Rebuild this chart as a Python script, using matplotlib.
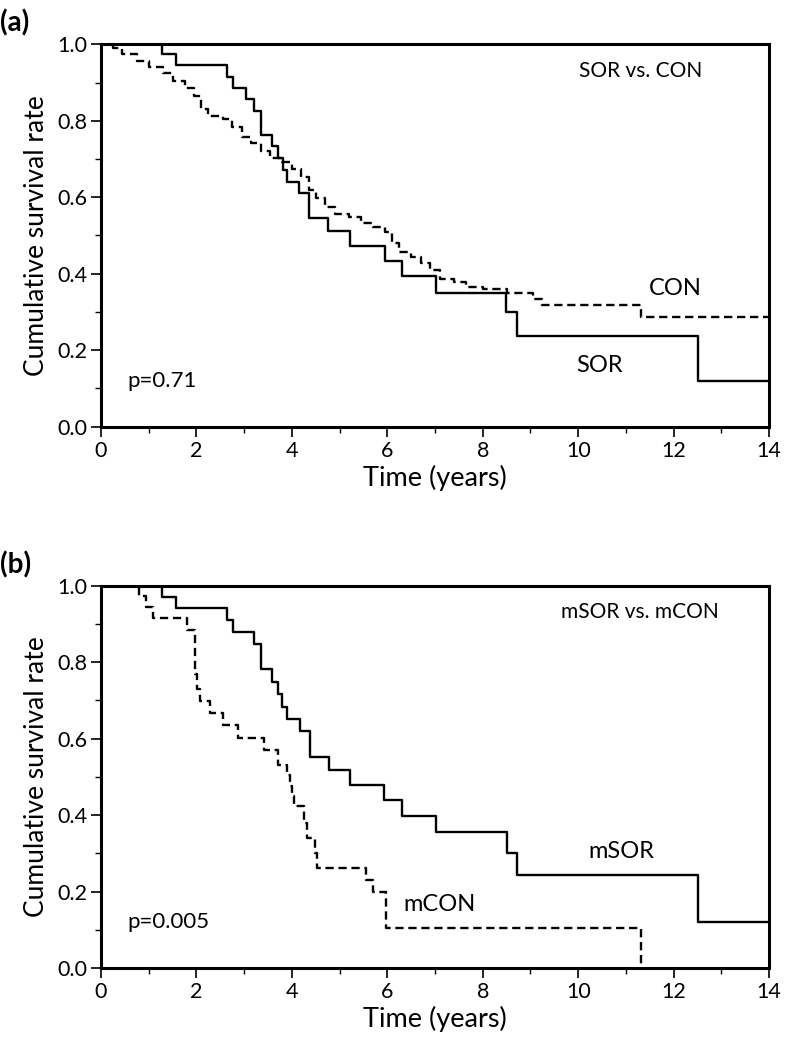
import matplotlib
matplotlib.use("Agg")
import matplotlib.pyplot as plt
from matplotlib.ticker import MultipleLocator

plt.rcParams['font.family'] = ['Lato', 'DejaVu Sans']

# (a) SOR vs. CON, Kaplan-Meier steps (time in years, survival)
sor_t = [0, 1.27, 1.57, 2.63, 2.77, 3.03, 3.21, 3.36, 3.58, 3.71, 3.81, 3.90,
         4.15, 4.36, 4.76, 5.22, 5.95, 6.30, 7.02, 8.49, 8.71, 12.52, 14.0]
sor_s = [1.0, 0.974, 0.947, 0.915, 0.885, 0.856, 0.826, 0.764, 0.733, 0.702, 0.671, 0.641,
         0.610, 0.546, 0.512, 0.473, 0.433, 0.395, 0.350, 0.301, 0.238, 0.120, 0.120]

con_t = [0, 0.25, 0.45, 0.75, 1.0, 1.3, 1.5, 1.75, 1.95, 2.1, 2.25, 2.55, 2.75, 2.95,
         3.15, 3.35, 3.55, 3.8, 4.0, 4.2, 4.35, 4.5, 4.7, 4.9, 5.2, 5.45, 5.7, 5.95,
         6.1, 6.25, 6.5, 6.7, 6.9, 7.1, 7.4, 7.65, 8.0, 8.5, 9.05, 9.25, 11.31, 14.0]
con_s = [1.0, 0.99, 0.975, 0.957, 0.94, 0.925, 0.905, 0.885, 0.865, 0.83, 0.812, 0.804,
         0.785, 0.758, 0.741, 0.72, 0.703, 0.693, 0.675, 0.652, 0.62, 0.598, 0.575,
         0.555, 0.548, 0.533, 0.523, 0.51, 0.48, 0.456, 0.445, 0.427, 0.41, 0.386,
         0.378, 0.366, 0.359, 0.349, 0.333, 0.318, 0.288, 0.288]

# (b) mSOR vs. mCON
msor_t = [0, 1.27, 1.57, 2.63, 2.77, 3.20, 3.36, 3.58, 3.70, 3.80, 3.90, 4.16, 4.37,
          4.77, 5.22, 5.94, 6.30, 7.03, 8.50, 8.71, 12.52, 14.0]
msor_s = [1.0, 0.971, 0.942, 0.910, 0.878, 0.847, 0.781, 0.748, 0.716, 0.683, 0.651,
          0.619, 0.552, 0.518, 0.478, 0.439, 0.397, 0.355, 0.302, 0.242, 0.121, 0.121]

mcon_t = [0, 0.80, 0.94, 1.08, 1.81, 1.97, 2.02, 2.07, 2.28, 2.56, 2.88, 3.41, 3.70,
          3.89, 3.96, 4.00, 4.05, 4.26, 4.32, 4.48, 4.52, 5.55, 5.70, 5.97, 11.31]
mcon_s = [1.0, 0.973, 0.945, 0.916, 0.884, 0.77, 0.73, 0.698, 0.666, 0.635, 0.602,
          0.570, 0.531, 0.505, 0.475, 0.45, 0.424, 0.38, 0.34, 0.30, 0.261, 0.23,
          0.20, 0.104, 0.0]

xticks = [0, 2, 4, 6, 8, 10, 12, 14]
yticks = [0.0, 0.2, 0.4, 0.6, 0.8, 1.0]

fig = plt.figure(figsize=(7.86, 10.42), dpi=100)
ax_a = fig.add_axes([0.1285, 0.5905, 0.850, 0.367])
ax_b = fig.add_axes([0.1285, 0.0710, 0.850, 0.367])

dash = (0, (3.5, 2.0))


def style_axis(ax, tag):
    ax.set_xlim(0, 14)
    ax.set_ylim(0, 1.0)
    ax.set_xticks(xticks)
    ax.set_yticks(yticks)
    ax.set_yticklabels([f"{v:.1f}" for v in yticks])
    ax.xaxis.set_minor_locator(MultipleLocator(1))
    ax.yaxis.set_minor_locator(MultipleLocator(0.1))
    ax.tick_params(which='major', direction='out', length=7, width=1.2,
                   labelsize=15.5, pad=3)
    ax.tick_params(which='minor', direction='out', length=4, width=1.0)
    for sp in ax.spines.values():
        sp.set_linewidth(2.2)
    ax.set_xlabel('Time (years)', fontsize=19.5, labelpad=3)
    ax.set_ylabel('Cumulative survival rate', fontsize=19, labelpad=6)
    ax.text(-0.151, 1.055, tag, transform=ax.transAxes, fontsize=20,
            fontweight='bold', ha='left', va='center')


# panel (a)
ax_a.step(sor_t, sor_s, where='post', color='black', lw=1.7)
ax_a.step(con_t, con_s, where='post', color='black', lw=1.7, linestyle=dash)
ax_a.text(11.3, 0.93, 'SOR vs. CON', fontsize=15, ha='center', va='center')
ax_a.text(12.03, 0.362, 'CON', fontsize=17, ha='center', va='center')
ax_a.text(10.44, 0.161, 'SOR', fontsize=17, ha='center', va='center')
ax_a.text(0.55, 0.12, 'p=0.71', fontsize=16, ha='left', va='center')
style_axis(ax_a, '(a)')

# panel (b)
ax_b.step(msor_t, msor_s, where='post', color='black', lw=1.7)
ax_b.step(mcon_t, mcon_s, where='post', color='black', lw=1.7, linestyle=dash)
ax_b.text(11.3, 0.93, 'mSOR vs. mCON', fontsize=15, ha='center', va='center')
ax_b.text(10.9, 0.304, 'mSOR', fontsize=17, ha='center', va='center')
ax_b.text(7.1, 0.165, 'mCON', fontsize=17, ha='center', va='center')
ax_b.text(0.55, 0.12, 'p=0.005', fontsize=16, ha='left', va='center')
style_axis(ax_b, '(b)')

fig.savefig('out.png', dpi=100)
